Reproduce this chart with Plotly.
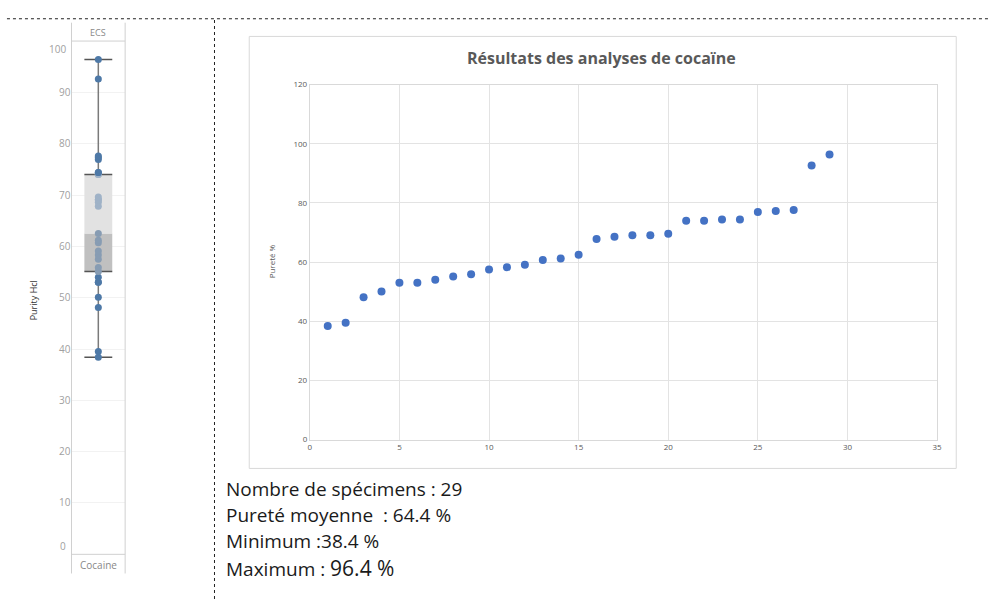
import numpy as np
import plotly.graph_objects as go

# sorted purity results (one per specimen)
specimen = list(range(1, 30))
purity = [38.4, 39.5, 48.1, 50.1, 53.0, 53.0, 54.0, 55.1, 55.9, 57.5,
          58.3, 59.1, 60.7, 61.2, 62.5, 67.8, 68.6, 69.1, 69.1, 69.6,
          74.0, 74.0, 74.4, 74.4, 76.9, 77.3, 77.6, 92.6, 96.4]

category = 'Cocaine'
group = 'ECS'
stats_lines = ['Nombre de spécimens : 29', 'Pureté moyenne  : 64.4 %',
               'Minimum :38.4 %', 'Maximum : <span style="font-size:21px">96.4 %</span>']

W, H = 993, 604


def px(x):
    return x / W


def py(y):
    return 1 - y / H


# box plot statistics
q1, med, q3 = np.percentile(purity, [25, 50, 75])
lo, hi = min(purity), max(purity)

blue = (78, 121, 167)
dark_box = (192, 192, 192)
light_box = (226, 226, 226)


def blend(c, b, a):
    r = [int(c[i] * (1 - a) + b[i] * a) for i in range(3)]
    return 'rgb(%d,%d,%d)' % tuple(r)


pt_colors = []
for v in purity:
    if q1 <= v <= med:
        pt_colors.append(blend(blue, dark_box, 0.5))
    elif med < v <= q3:
        pt_colors.append(blend(blue, light_box, 0.55))
    else:
        pt_colors.append('rgb(78,121,167)')

fig = go.Figure()

# --- left panel: box plot ---
hw = 0.52
fig.add_trace(go.Bar(x=[0], y=[med - q1], base=[q1], width=2 * hw,
                     marker=dict(color='rgb(192,192,192)', line=dict(width=0)),
                     xaxis='x2', yaxis='y2', hoverinfo='skip'))
fig.add_trace(go.Bar(x=[0], y=[q3 - med], base=[med], width=2 * hw,
                     marker=dict(color='rgb(226,226,226)', line=dict(width=0)),
                     xaxis='x2', yaxis='y2', hoverinfo='skip'))
fig.add_trace(go.Scatter(x=[0, 0, None, 0, 0], y=[lo, q1, None, q3, hi],
                         mode='lines', line=dict(color='#7a7a7a', width=1.5),
                         xaxis='x2', yaxis='y2', hoverinfo='skip'))
fig.add_trace(go.Scatter(x=[-hw, hw, None, -hw, hw, None, -hw, hw, None, -hw, hw],
                         y=[hi, hi, None, q3, q3, None, q1, q1, None, lo, lo],
                         mode='lines', line=dict(color='#555555', width=1.5),
                         xaxis='x2', yaxis='y2', hoverinfo='skip'))
fig.add_trace(go.Scatter(x=[0] * len(purity), y=purity, mode='markers',
                         marker=dict(color=pt_colors, size=7),
                         xaxis='x2', yaxis='y2'))

# --- right panel: scatter ---
fig.add_trace(go.Scatter(x=specimen, y=purity, mode='markers',
                         marker=dict(color='#4472c4', size=8),
                         xaxis='x', yaxis='y'))

fig.update_layout(
    width=W, height=H,
    margin=dict(l=0, r=0, t=0, b=0),
    paper_bgcolor='white', plot_bgcolor='white',
    showlegend=False, barmode='overlay',
    font=dict(family='Open Sans, Arial', color='#595959'),
    xaxis=dict(domain=[px(310), px(941.7)], range=[0, 35], dtick=5,
               gridcolor='#e3e3e3', showline=True, mirror=True, linecolor='#d9d9d9',
               zeroline=False, ticks='', tickfont=dict(size=8, color='#595959'),
               anchor='y'),
    yaxis=dict(domain=[py(441.7), py(80)], range=[0, 120], dtick=20,
               gridcolor='#e3e3e3', showline=True, mirror=True, linecolor='#d9d9d9',
               zeroline=False, ticks='', tickfont=dict(size=8, color='#595959'),
               anchor='x'),
    xaxis2=dict(domain=[px(70), px(124)], range=[-1, 1], showticklabels=False,
                showgrid=False, zeroline=False, fixedrange=True, anchor='y2'),
    yaxis2=dict(domain=[py(558.5), py(35.7)], range=[0, 100],
                tickvals=[10, 20, 30, 40, 50, 60, 70, 80, 90],
                gridcolor='#f2f2f2', zeroline=False, ticks='',
                tickfont=dict(size=10, color='#a0a0a0'), anchor='x2'),
)

# frames and separators
shapes = [
    dict(type='rect', xref='paper', yref='paper', x0=px(249), x1=px(961), y0=py(471), y1=py(31),
         line=dict(color='#d9d9d9', width=1)),
    dict(type='line', xref='paper', yref='paper', x0=px(5), x1=1, y0=py(13), y1=py(13),
         line=dict(color='#222222', width=1, dash='dot')),
    dict(type='line', xref='paper', yref='paper', x0=px(214), x1=px(214), y0=0, y1=py(13),
         line=dict(color='#222222', width=1, dash='dot')),
    dict(type='line', xref='paper', yref='paper', x0=px(70), x1=px(70), y0=py(578), y1=py(17),
         line=dict(color='#d0d0d0', width=1)),
    dict(type='line', xref='paper', yref='paper', x0=px(124), x1=px(124), y0=py(578), y1=py(17),
         line=dict(color='#d0d0d0', width=1)),
    dict(type='line', xref='paper', yref='paper', x0=px(70), x1=px(124), y0=py(35.7), y1=py(35.7),
         line=dict(color='#d0d0d0', width=1)),
    dict(type='line', xref='paper', yref='paper', x0=px(70), x1=px(124), y0=py(558.5), y1=py(558.5),
         line=dict(color='#d0d0d0', width=1)),
]
fig.update_layout(shapes=shapes)


def note(text, x, y, size, color, angle=0, xanchor='center'):
    return dict(text=text, x=px(x), y=py(y), xref='paper', yref='paper', textangle=angle,
                xanchor=xanchor, yanchor='middle', showarrow=False,
                font=dict(size=size, color=color))


ann = [
    note('<b>Résultats des analyses de cocaïne</b>', 604, 53, 16, '#595959'),
    note('Pureté %', 271, 260, 8, '#595959', angle=-90),
    note(group, 97, 27, 9, '#888888'),
    note(category, 97, 569, 10, '#888888'),
    note('Purity Hcl', 32, 300, 9, '#333333', angle=-90),
    note('100', 66, 44, 10, '#a0a0a0', xanchor='right'),
    note('0', 66, 550, 10, '#a0a0a0', xanchor='right'),
]
ys = [492, 518, 545, 572]
for t, yy in zip(stats_lines, ys):
    ann.append(note(t, 224, yy, 19, '#1a1a1a', xanchor='left'))
fig.update_layout(annotations=ann)

fig.write_html('out.html', config={'displayModeBar': False},
               post_script="document.body.style.margin='0';document.body.style.overflow='hidden';")
